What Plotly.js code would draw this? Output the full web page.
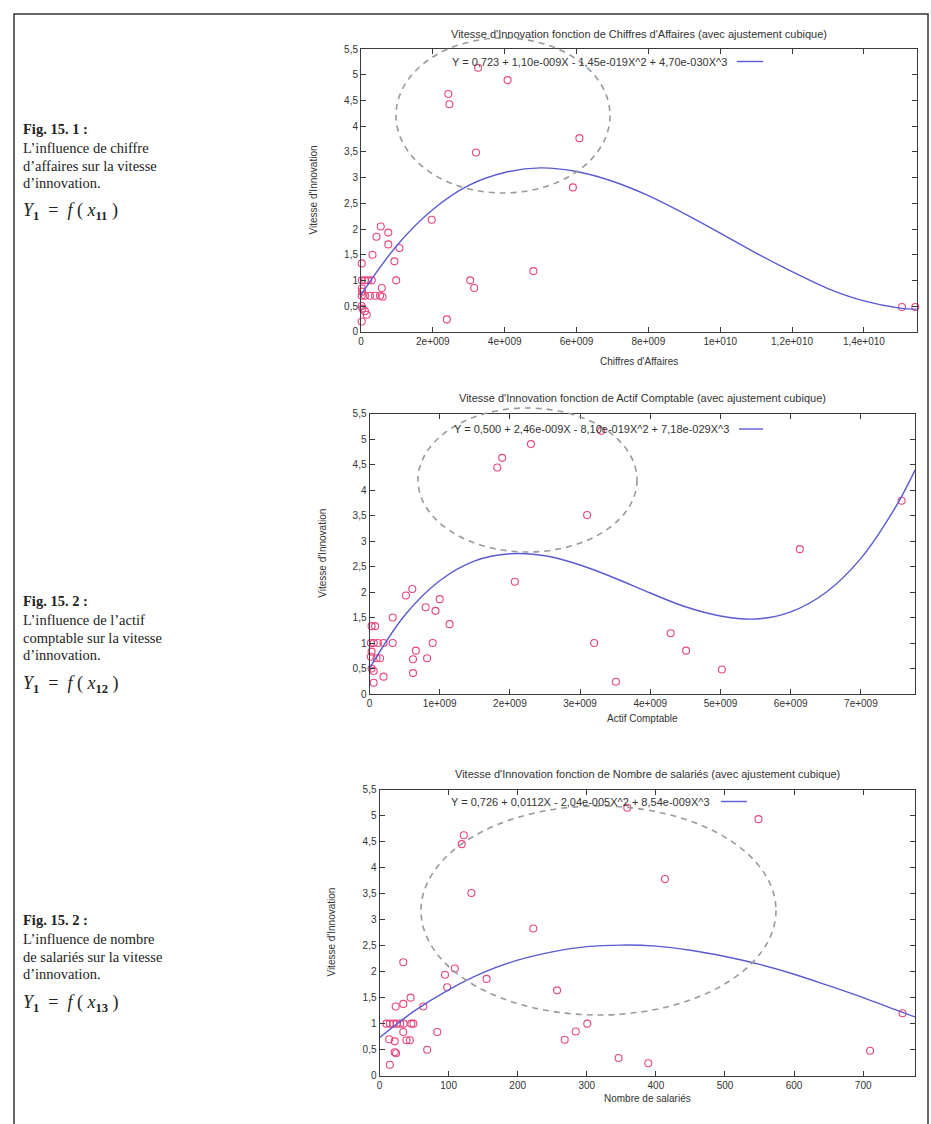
<!DOCTYPE html>
<html>
<head>
<meta charset="utf-8">
<script src="https://cdn.plot.ly/plotly-3.0.1.min.js"></script>
<style>html,body{margin:0;padding:0;background:#fff;}#chart{width:931px;height:1124px;}</style>
</head>
<body>
<div id="chart"></div>
<script>
// ---------- DATA ----------
// Chart 1 : Chiffres d'Affaires
const caX = [0.02e9,0.02e9,0.11e9,0.2e9,0.3e9,0.02e9,0.03e9,0.02e9,0.11e9,0.25e9,0.39e9,0.53e9,0.6e9,0.02e9,0.04e9,0.11e9,0.16e9,0.02e9,0.58e9,0.98e9,
  0.32e9,0.55e9,0.43e9,0.76e9,0.76e9,1.07e9,0.93e9,1.97e9,3.2e9,3.04e9,3.15e9,2.39e9,4.8e9,5.9e9,6.08e9,2.43e9,2.46e9,3.26e9,4.08e9,15.06e9,15.43e9];
const caY = [1.33,1.0,1.0,1.0,1.0,0.84,0.78,0.7,0.7,0.7,0.7,0.7,0.68,0.5,0.45,0.4,0.33,0.2,0.85,1.0,
  1.5,2.05,1.85,1.93,1.7,1.63,1.37,2.18,3.49,1.0,0.85,0.24,1.18,2.81,3.77,4.63,4.43,5.14,4.9,0.48,0.48];
const caFitX = [0,1e9,2e9,3e9,4e9,5e9,6e9,7e9,8e9,9e9,10e9,11e9,12e9,13e9,14e9,15e9,15.47e9];
const caFitY = [0.72,1.68,2.38,2.85,3.10,3.19,3.12,2.93,2.65,2.30,1.92,1.53,1.17,0.84,0.60,0.46,0.44];
const caTickVals = [0,2e9,4e9,6e9,8e9,10e9,12e9,14e9];
const caTickText = ['0','2e+009','4e+009','6e+009','8e+009','1e+010','1,2e+010','1,4e+010'];

// Chart 2 : Actif Comptable
const acX = [0.03e9,0.08e9,0.02e9,0.06e9,0.12e9,0.2e9,0.33e9,0.03e9,0.02e9,0.1e9,0.15e9,0.03e9,0.06e9,0.06e9,0.2e9,0.33e9,0.52e9,0.61e9,0.8e9,0.94e9,
  1.0e9,1.14e9,0.9e9,0.66e9,0.62e9,0.82e9,0.62e9,2.07e9,3.1e9,3.2e9,3.51e9,4.29e9,4.51e9,5.02e9,6.13e9,7.58e9,1.82e9,1.89e9,2.3e9,3.3e9];
const acY = [1.33,1.33,1.0,1.0,1.0,1.0,1.0,0.83,0.73,0.7,0.7,0.5,0.45,0.22,0.34,1.5,1.93,2.06,1.7,1.63,
  1.86,1.37,1.0,0.85,0.68,0.7,0.41,2.2,3.51,1.0,0.24,1.19,0.85,0.48,2.84,3.79,4.44,4.63,4.9,5.16];
const acFitX = [0,0.5e9,1e9,1.5e9,2e9,2.5e9,3e9,3.5e9,4e9,4.5e9,5e9,5.5e9,6e9,6.5e9,7e9,7.5e9,7.775e9];
const acFitY = [0.50,1.54,2.22,2.61,2.75,2.71,2.53,2.27,1.98,1.71,1.53,1.47,1.61,1.99,2.66,3.68,4.40];
const acTickVals = [0,1e9,2e9,3e9,4e9,5e9,6e9,7e9];
const acTickText = ['0','1e+009','2e+009','3e+009','4e+009','5e+009','6e+009','7e+009'];

// Chart 3 : Nombre de salariés
const nsX = [133,222.6,34.4,109,94.8,155,98,257,45,34.4,23.4,63.4,10,15,20,25,30,35,46,49,
  34.4,83.6,14,22,39,44,69,22,24,15,268,284,300.7,346,389,413,710,757,122,119,358.6,548.5];
const nsY = [3.51,2.83,2.18,2.06,1.94,1.86,1.7,1.64,1.5,1.38,1.33,1.33,1.0,1.0,1.0,1.0,1.0,1.0,1.0,1.0,
  0.84,0.84,0.7,0.66,0.68,0.68,0.5,0.45,0.43,0.21,0.69,0.85,1.0,0.34,0.24,3.78,0.48,1.2,4.62,4.45,5.15,4.93];
const nsFitX = [0,50,100,150,200,250,300,350,400,450,500,550,600,650,700,750,775];
const nsFitY = [0.73,1.24,1.65,1.98,2.22,2.38,2.48,2.51,2.49,2.41,2.29,2.14,1.95,1.73,1.50,1.25,1.13];
const nsTickVals = [0,100,200,300,400,500,600,700];
const nsTickText = ['0','100','200','300','400','500','600','700'];

const yTickVals = [0,0.5,1,1.5,2,2.5,3,3.5,4,4.5,5,5.5];
const yTickText = ['0','0,5','1','1,5','2','2,5','3','3,5','4','4,5','5','5,5'];

const titles = [
  "Vitesse d'Innovation fonction de Chiffres d'Affaires (avec ajustement cubique)",
  "Vitesse d'Innovation fonction de Actif Comptable (avec ajustement cubique)",
  "Vitesse d'Innovation fonction de Nombre de salariés (avec ajustement cubique)"
];
const legends = [
  "Y = 0,723 + 1,10e-009X - 1,45e-019X^2 + 4,70e-030X^3",
  "Y = 0,500 + 2,46e-009X - 8,10e-019X^2 + 7,18e-029X^3",
  "Y = 0,726 + 0,0112X - 2,04e-005X^2 + 8,54e-009X^3"
];
const xTitles = ["Chiffres d'Affaires","Actif Comptable","Nombre de salariés"];
const yTitle = "Vitesse d'Innovation";

// ---------- LAYOUT ----------
const W = 931, H = 1124;
const px = x => x / W;
const py = y => 1 - y / H;

// pixel boxes of the three plot areas [left, right, top, bottom]
const boxes = [
  [361, 916.7, 49.3, 331.7],
  [369.5, 915.3, 413.5, 694],
  [379.5, 915, 789.5, 1075.7]
];
const xRanges = [[0,15.47e9],[0,7.775e9],[0,775]];
const xTicks = [[caTickVals,caTickText],[acTickVals,acTickText],[nsTickVals,nsTickText]];

const pointColor = '#e6477a';
const fitColor = '#5a5ad2';
const axisColor = '#3a3a3a';
const sans = 'Liberation Sans, Arial, sans-serif';
const serif = 'Liberation Serif, Times New Roman, serif';

const series = [[caX,caY,caFitX,caFitY],[acX,acY,acFitX,acFitY],[nsX,nsY,nsFitX,nsFitY]];
const data = [];
series.forEach((s,i) => {
  const xa = i === 0 ? 'x' : 'x' + (i+1);
  const ya = i === 0 ? 'y' : 'y' + (i+1);
  data.push({x: s[0], y: s[1], type: 'scatter', mode: 'markers', xaxis: xa, yaxis: ya,
    marker: {symbol: 'circle-open', size: 7, color: pointColor, line: {width: 1.1, color: pointColor}},
    showlegend: false, hoverinfo: 'skip', cliponaxis: false});
  data.push({x: s[2], y: s[3], type: 'scatter', mode: 'lines', xaxis: xa, yaxis: ya,
    line: {color: fitColor, width: 1.4, shape: 'spline'}, showlegend: false, hoverinfo: 'skip'});
});

const layout = {
  width: W, height: H,
  margin: {l: 0, r: 0, t: 0, b: 0},
  paper_bgcolor: '#ffffff', plot_bgcolor: '#ffffff',
  showlegend: false,
  annotations: [], shapes: []
};

boxes.forEach((b,i) => {
  const sfx = i === 0 ? '' : String(i+1);
  const xa = 'x' + sfx, ya = 'y' + sfx;
  layout['xaxis' + sfx] = {
    domain: [px(b[0]), px(b[1])], anchor: ya, range: xRanges[i],
    tickvals: xTicks[i][0], ticktext: xTicks[i][1],
    ticks: 'inside', ticklen: 5, tickcolor: axisColor, tickwidth: 1,
    showline: true, linecolor: axisColor, linewidth: 1, mirror: 'ticks',
    showgrid: false, zeroline: false,
    tickfont: {family: sans, size: 10, color: '#333'}, fixedrange: true
  };
  layout['yaxis' + sfx] = {
    domain: [py(b[3]), py(b[2])], anchor: xa, range: [0, 5.5],
    tickvals: yTickVals, ticktext: yTickText,
    ticks: 'inside', ticklen: 5, tickcolor: axisColor, tickwidth: 1,
    showline: true, linecolor: axisColor, linewidth: 1, mirror: 'ticks',
    showgrid: false, zeroline: false,
    tickfont: {family: sans, size: 10, color: '#333'}, fixedrange: true
  };
});

// titles, legends, axis titles
const titleY = [33.5, 398, 774];
const legendY = [61.5, 429, 801.5];
const legendTextEnd = [729, 731, 712];
const legendLine = [[737,763],[739,763],[721,747]];
const xTitleY = [361, 718, 1098];
const yTitleX = [313, 323, 332];

boxes.forEach((b,i) => {
  const cx = (b[0] + b[1]) / 2;
  layout.annotations.push({xref:'paper', yref:'paper', x: px(cx), y: py(titleY[i]), text: titles[i],
    showarrow:false, xanchor:'center', yanchor:'middle', font:{family:sans, size:11, color:'#333'}});
  layout.annotations.push({xref:'paper', yref:'paper', x: px(legendTextEnd[i]), y: py(legendY[i]), text: legends[i],
    showarrow:false, xanchor:'right', yanchor:'middle', font:{family:sans, size:11, color:'#333'}});
  layout.shapes.push({type:'line', xref:'paper', yref:'paper', x0: px(legendLine[i][0]), x1: px(legendLine[i][1]),
    y0: py(legendY[i]), y1: py(legendY[i]), line:{color: fitColor, width:1.4}});
  layout.annotations.push({xref:'paper', yref:'paper', x: px(cx), y: py(xTitleY[i]), text: xTitles[i],
    showarrow:false, xanchor:'center', yanchor:'middle', font:{family:sans, size:10, color:'#333'}});
  layout.annotations.push({xref:'paper', yref:'paper', x: px(yTitleX[i]), y: py((b[2]+b[3])/2), text: yTitle,
    showarrow:false, xanchor:'center', yanchor:'middle', textangle:-90, font:{family:sans, size:10, color:'#333'}});
});

// dashed highlight ellipses (hand-drawn annotations on the figure)
const ellipses = [[396, 610, 38, 193], [418, 637, 408, 552], [421, 776, 806, 1015]];
ellipses.forEach(e => {
  layout.shapes.push({type:'circle', xref:'paper', yref:'paper', x0: px(e[0]), x1: px(e[1]), y0: py(e[3]), y1: py(e[2]),
    line:{color:'#9a9a9a', width:1.6, dash:'6px,5px'}, fillcolor:'rgba(0,0,0,0)'});
});

// outer frame
layout.shapes.push({type:'rect', xref:'paper', yref:'paper', x0: px(14), x1: px(928), y0: py(1140), y1: py(14),
  line:{color:'#333', width:1.5}, fillcolor:'rgba(0,0,0,0)', layer:'below'});

// left captions
const captions = [
  {top: 129, head: 'Fig. 15. 1 :', lines: ["L\u2019influence de chiffre", "d\u2019affaires sur la vitesse", "d\u2019innovation."], sub: '11'},
  {top: 601, head: 'Fig. 15. 2 :', lines: ["L\u2019influence de l\u2019actif", "comptable sur la vitesse", "d\u2019innovation."], sub: '12'},
  {top: 920, head: 'Fig. 15. 2 :', lines: ["L\u2019influence de nombre", "de salariés sur la vitesse", "d\u2019innovation."], sub: '13'}
];
captions.forEach(c => {
  layout.annotations.push({xref:'paper', yref:'paper', x: px(21), y: py(c.top), text: '<b>' + c.head + '</b>',
    showarrow:false, xanchor:'left', yanchor:'middle', font:{family:serif, size:14.5, color:'#222'}});
  c.lines.forEach((t,k) => {
    layout.annotations.push({xref:'paper', yref:'paper', x: px(21), y: py(c.top + 19 + 17.5*k), text: t,
      showarrow:false, xanchor:'left', yanchor:'middle', font:{family:serif, size:14.5, color:'#222'}});
  });
  layout.annotations.push({xref:'paper', yref:'paper', x: px(21), y: py(c.top + 83), 
    text: '<i>Y</i><sub><b>1</b></sub>  =  <i>f</i> ( <i>x</i><sub><b>' + c.sub + '</b></sub> )',
    showarrow:false, xanchor:'left', yanchor:'middle', font:{family:serif, size:18, color:'#222'}});
});

Plotly.newPlot('chart', data, layout, {staticPlot: true, displayModeBar: false});
</script>
</body>
</html>
